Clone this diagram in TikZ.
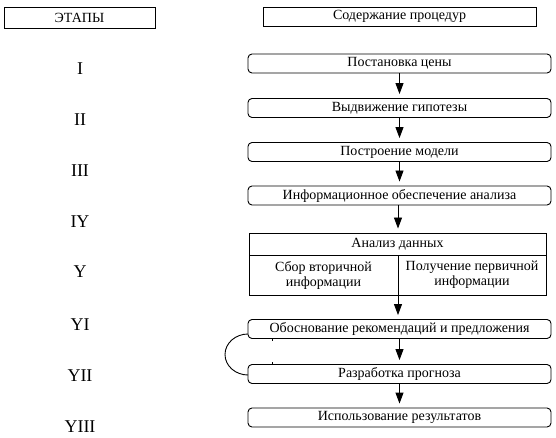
\documentclass[tikz,border=0pt]{standalone}
\usepackage{fontspec}
\setmainfont{Liberation Serif}
\usetikzlibrary{arrows.meta}
\begin{document}
\begin{tikzpicture}[x=1pt,y=-1pt,
  every node/.style={inner sep=0pt},
  txt/.style={font=\fontsize{14}{15}\selectfont},
  hdrbox/.style={draw, line width=0.9pt, txt},
  procbox/.style={draw, line width=0.9pt, rounded corners=4pt, minimum width=303pt, minimum height=19pt, txt},
  stage/.style={font=\fontsize{18}{20}\selectfont},
  arr/.style={line width=0.9pt, -{Triangle[width=8pt,length=11pt]}, shorten >=4pt},
  ln/.style={line width=0.9pt}]
\useasboundingbox (0,0) rectangle (556,438);
% headers
\node[hdrbox, minimum width=151pt, minimum height=21pt] (h1) at (79.5,17.5) {ЭТАПЫ};
\node[hdrbox, minimum width=273pt, minimum height=19pt] (h2) at (399.5,16.5) {Содержание процедур};
% stages
\node[stage] (s1) at (80,69) {I};
\node[stage] (s2) at (80,120) {II};
\node[stage] (s3) at (80,171) {III};
\node[stage] (s4) at (80,222) {IY};
\node[stage] (s5) at (80,272) {Y};
\node[stage] (s6) at (80,325) {YI};
\node[stage] (s7) at (80,376) {YII};
\node[stage] (s8) at (80,427) {YIII};
% procedure boxes
\node[procbox] (b1) at (399.5,63.5) {Постановка цены};
\node[procbox] (b2) at (399.5,108) {Выдвижение гипотезы};
\node[procbox] (b3) at (399.5,152) {Построение модели};
\node[procbox] (b4) at (399.5,195.5) {Информационное обеспечение анализа};
\node[draw, line width=0.9pt, minimum width=297pt, minimum height=62pt] (an) at (397.5,264) {};
\node[procbox] (b5) at (399.5,329) {Обоснование рекомендаций и предложения};
\node[procbox] (b6) at (399.5,374) {Разработка прогноза};
\node[procbox] (b7) at (399.5,417.5) {Использование результатов};
% analysis box internals
\coordinate (hl) at (249,255);
\coordinate (hr) at (546,255);
\coordinate (hd) at (398,255);
\draw[ln] (hl) -- (hr);
\node[txt] (at) at (397.5,244) {Анализ данных};
\node[txt, align=center] (c1) at (323.5,275) {Сбор вторичной\\информации};
\node[txt, align=center] (c2) at (472,275) {Получение первичной\\информации};
% arrows
\draw[arr] (b1.south) -- (b2.north);
\draw[arr] (b2.south) -- (b3.north);
\draw[arr] (b3.south) -- (b4.north);
\draw[arr] (b4.south -| hd) -- (an.north -| hd);
\draw[arr] (hd) -- (hd |- b5.north);
\draw[arr] (b5.south) -- (b6.north);
\draw[arr] (b6.south) -- (b7.north);
% feedback curve
\coordinate (ca) at (248,334);
\coordinate (cm) at (225,354.5);
\coordinate (cb) at (248,375);
\draw[ln] (ca) .. controls (235.4,334) and (225,343.2) .. (cm)
               .. controls (225,365.8) and (235.4,375) .. (cb);
\coordinate (t1a) at (272,338.5);
\coordinate (t1b) at (272,341);
\coordinate (t2a) at (272,362);
\coordinate (t2b) at (272,364.5);
\draw[ln] (t1a) -- (t1b);
\draw[ln] (t2a) -- (t2b);
\end{tikzpicture}
\end{document}
